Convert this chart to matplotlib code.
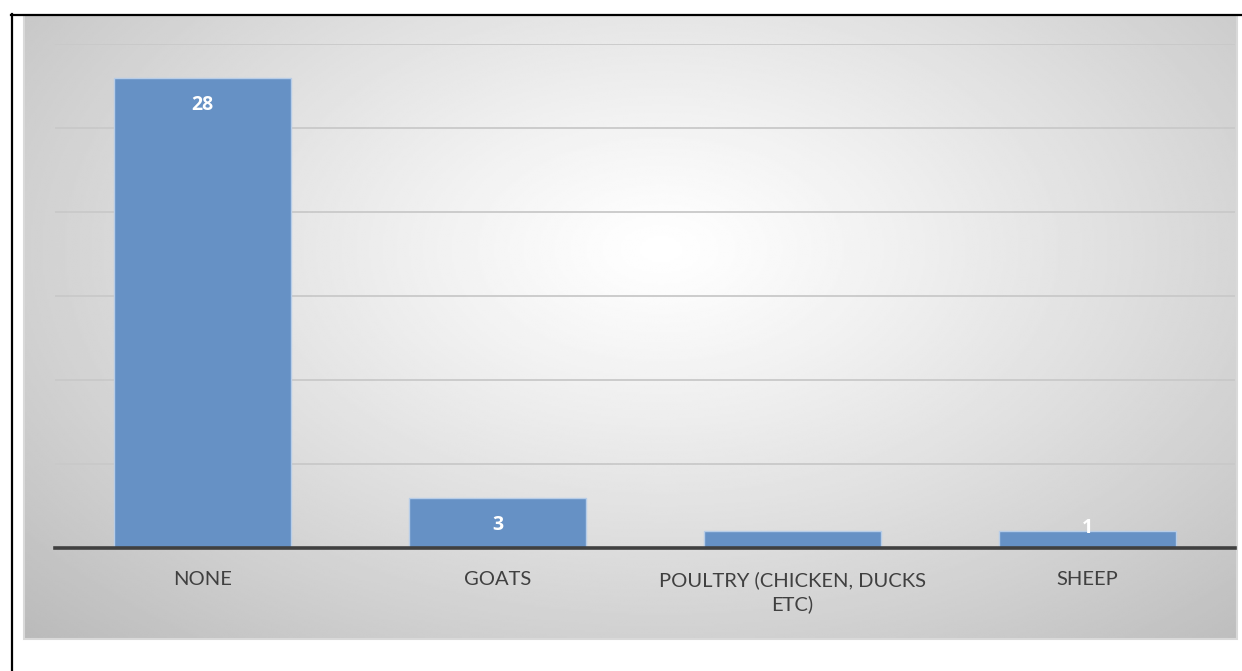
import numpy as np
import matplotlib
matplotlib.use("Agg")
import matplotlib.pyplot as plt
from matplotlib.lines import Line2D
from matplotlib.patches import Rectangle

categories = ["NONE", "GOATS", "POULTRY (CHICKEN, DUCKS\nETC)", "SHEEP"]
counts = [28, 3, 1, 1]
shown_labels = ["28", "3", None, "1"]

W, H = 1242, 671
BAR_COLOR = "#6691c5"
TEXT_COLOR = "#404040"

plt.rcParams["font.family"] = ["Lato", "DejaVu Sans"]

fig = plt.figure(figsize=(W / 100, H / 100), dpi=100)
fig.patch.set_facecolor("white")


def fx(px):
    return px / W


def fy(py):
    return 1 - py / H


# chart area with a radial gray-to-white fill
area = (24, 15, 1237, 639)
bg = fig.add_axes([fx(area[0]), fy(area[3]), fx(area[2] - area[0]), (area[3] - area[1]) / H])
gx, gy = np.meshgrid(np.linspace(-1, 1, 600), np.linspace(-1, 1, 320))
cx, cy = 0.05, -0.25
r = np.sqrt(((gx - cx) / 1.05) ** 2 + ((gy - cy) / 1.25) ** 2) / np.sqrt(2)
shade = 1 - 0.27 * np.clip(r, 0, 1) ** 1.15
bg.imshow(shade, cmap="gray", vmin=0, vmax=1, aspect="auto",
          extent=(0, 1, 0, 1), interpolation="bilinear")
bg.set_xlim(0, 1)
bg.set_ylim(0, 1)
bg.axis("off")
bg.add_patch(Rectangle((0, 0), 1, 1, fill=False, edgecolor="#d9d9d9",
                       linewidth=1.5, transform=bg.transAxes, clip_on=False))

# the bar chart itself
ax = fig.add_axes([fx(55), fy(548), fx(1235 - 55), (548 - 44) / H])
ax.patch.set_alpha(0)
x = np.arange(len(categories))
bars = ax.bar(x, counts, width=0.6, color=BAR_COLOR, edgecolor="#b7cde8",
              linewidth=1, zorder=3)
ax.set_xlim(-0.5, len(categories) - 0.5)
ax.set_ylim(0, 30)
ax.set_yticks(np.arange(5, 31, 5))
ax.yaxis.grid(True, color="#c9c9c9", linewidth=1.3, zorder=0)
ax.set_axisbelow(True)
ax.tick_params(axis="y", left=False, labelleft=False)
ax.set_xticks(x)
ax.set_xticklabels(categories, fontsize=14.5, color=TEXT_COLOR, linespacing=1.45)
ax.tick_params(axis="x", length=0, pad=16.5)
for side in ("top", "right", "left"):
    ax.spines[side].set_visible(False)
ax.spines["bottom"].set_color(TEXT_COLOR)
ax.spines["bottom"].set_linewidth(2.6)
ax.spines["bottom"].set_zorder(4)

# value labels, white and bold just inside the bar ends
for bar, lab in zip(bars, shown_labels):
    if lab is None:
        continue
    h = bar.get_height()
    dy = -20 if h > 2 else 2
    ax.annotate(lab, (bar.get_x() + bar.get_width() / 2, h),
                xytext=(0, dy), textcoords="offset points",
                ha="center", va="center", color="white",
                fontsize=14, fontweight="bold", family=["Open Sans", "DejaVu Sans"],
                zorder=5)

# black cell border on top and left
fig.add_artist(Line2D([fx(11), 1], [fy(14.5), fy(14.5)], color="black", linewidth=1.6))
fig.add_artist(Line2D([fx(11.5), fx(11.5)], [0, fy(14)], color="black", linewidth=1.6))

fig.savefig("out.png", dpi=100)
